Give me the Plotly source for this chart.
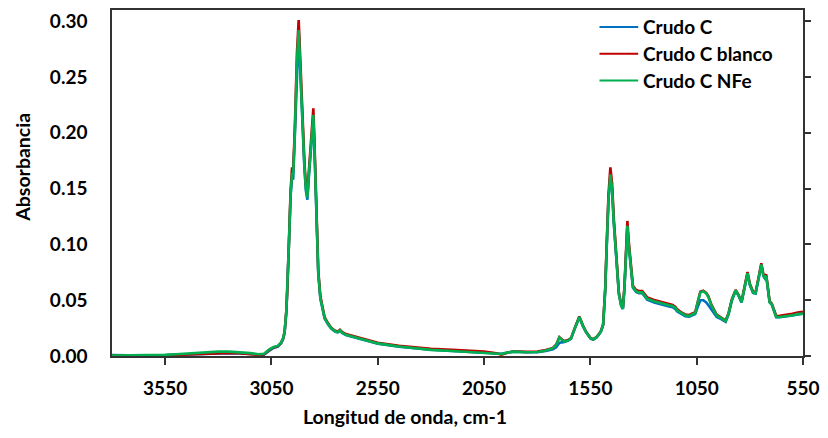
import plotly.graph_objects as go

# Wavenumber (cm-1)
wavenumber = [3800, 3750, 3700, 3650, 3600, 3550, 3500, 3450, 3400, 3350, 3300, 3250, 3200, 3150, 3110, 3085,
              3060, 3040, 3020, 3005, 2995, 2988, 2980, 2975, 2968, 2960, 2953, 2948, 2940, 2930, 2922, 2915,
              2905, 2895, 2888, 2881, 2875, 2866, 2853, 2845, 2838, 2830, 2820, 2810, 2800, 2785, 2770, 2750,
              2738, 2728, 2718, 2700, 2650, 2600, 2550, 2450, 2380, 2300, 2200, 2147, 2050, 2000, 1968, 1940,
              1913, 1850, 1800, 1760, 1726, 1710, 1696, 1685, 1672, 1655, 1641, 1625, 1602, 1585, 1571, 1550,
              1537, 1520, 1501, 1490, 1480, 1474, 1465, 1456, 1448, 1440, 1431, 1422, 1416, 1405, 1397, 1390,
              1382, 1376, 1370, 1361, 1350, 1335, 1322, 1306, 1295, 1283, 1250, 1213, 1180, 1163, 1150, 1143,
              1120, 1104, 1085, 1065, 1057, 1045, 1033, 1019, 1005, 995, 980, 956, 935, 914, 900, 885,
              867, 855, 839, 825, 811, 800, 785, 773, 760, 746, 736, 730, 723, 715, 707, 697,
              685, 676, 660, 640, 622, 600, 575, 550]

crudo_c = [0.0008, 0.0009, 0.0007, 0.0005, 0.0004, 0.0007, 0.0011, 0.0015, 0.0019, 0.0024, 0.0027, 0.0026, 0.0022, 0.0016, 0.0009, 0.0012,
           0.0048, 0.0072, 0.0084, 0.0112, 0.0152, 0.0212, 0.0395, 0.0590, 0.0990, 0.1430, 0.1620, 0.1580, 0.1970, 0.2620, 0.2900, 0.2580,
           0.2080, 0.1680, 0.1480, 0.1400, 0.1580, 0.1780, 0.2140, 0.1680, 0.1190, 0.0740, 0.0515, 0.0415, 0.0336, 0.0286, 0.0247, 0.0217,
           0.0212, 0.0226, 0.0207, 0.0187, 0.0162, 0.0138, 0.0111, 0.0084, 0.0068, 0.0056, 0.0046, 0.0040, 0.0032, 0.0024, 0.0020, 0.0031,
           0.0039, 0.0033, 0.0034, 0.0046, 0.0060, 0.0080, 0.0118, 0.0122, 0.0126, 0.0138, 0.0155, 0.0238, 0.0348, 0.0268, 0.0215, 0.0158,
           0.0146, 0.0168, 0.0215, 0.0278, 0.0595, 0.0935, 0.1395, 0.1615, 0.1490, 0.1195, 0.0935, 0.0676, 0.0555, 0.0447, 0.0421, 0.0597,
           0.0945, 0.1160, 0.0995, 0.0790, 0.0612, 0.0574, 0.0563, 0.0562, 0.0532, 0.0504, 0.0480, 0.0458, 0.0444, 0.0438, 0.0420, 0.0400,
           0.0370, 0.0356, 0.0352, 0.0366, 0.0375, 0.0440, 0.0500, 0.0500, 0.0480, 0.0455, 0.0410, 0.0350, 0.0330, 0.0306, 0.0374, 0.0495,
           0.0582, 0.0546, 0.0479, 0.0595, 0.0736, 0.0635, 0.0566, 0.0559, 0.0695, 0.0813, 0.0715, 0.0696, 0.0716, 0.0576, 0.0480, 0.0460,
           0.0397, 0.0347, 0.0348, 0.0353, 0.0354, 0.0363, 0.0373, 0.0378]

crudo_c_blanco = [0.0005, 0.0004, 0.0004, 0.0003, 0.0003, 0.0006, 0.0010, 0.0014, 0.0019, 0.0024, 0.0027, 0.0027, 0.0024, 0.0017, 0.0010, 0.0016,
                  0.0055, 0.0077, 0.0088, 0.0118, 0.0158, 0.0220, 0.0405, 0.0610, 0.1020, 0.1480, 0.1690, 0.1660, 0.2050, 0.2720, 0.3010, 0.2680,
                  0.2160, 0.1740, 0.1530, 0.1440, 0.1630, 0.1840, 0.2220, 0.1750, 0.1230, 0.0770, 0.0535, 0.0430, 0.0348, 0.0297, 0.0256, 0.0225,
                  0.0220, 0.0235, 0.0215, 0.0196, 0.0171, 0.0146, 0.0119, 0.0092, 0.0076, 0.0064, 0.0055, 0.0049, 0.0040, 0.0026, 0.0012, 0.0030,
                  0.0040, 0.0037, 0.0040, 0.0054, 0.0072, 0.0105, 0.0168, 0.0150, 0.0134, 0.0143, 0.0160, 0.0243, 0.0353, 0.0272, 0.0220, 0.0163,
                  0.0150, 0.0172, 0.0220, 0.0283, 0.0615, 0.0965, 0.1440, 0.1690, 0.1550, 0.1235, 0.0965, 0.0695, 0.0570, 0.0458, 0.0432, 0.0615,
                  0.0985, 0.1210, 0.1035, 0.0815, 0.0630, 0.0592, 0.0582, 0.0582, 0.0552, 0.0525, 0.0501, 0.0480, 0.0465, 0.0458, 0.0440, 0.0420,
                  0.0388, 0.0372, 0.0367, 0.0382, 0.0392, 0.0485, 0.0575, 0.0585, 0.0566, 0.0534, 0.0456, 0.0371, 0.0345, 0.0318, 0.0384, 0.0505,
                  0.0592, 0.0555, 0.0488, 0.0607, 0.0752, 0.0648, 0.0577, 0.0570, 0.0710, 0.0832, 0.0730, 0.0710, 0.0732, 0.0588, 0.0490, 0.0470,
                  0.0408, 0.0358, 0.0360, 0.0366, 0.0368, 0.0378, 0.0390, 0.0395]

crudo_c_nfe = [0.0005, 0.0005, 0.0004, 0.0004, 0.0005, 0.0010, 0.0016, 0.0022, 0.0029, 0.0035, 0.0039, 0.0039, 0.0035, 0.0026, 0.0016, 0.0020,
               0.0060, 0.0080, 0.0090, 0.0120, 0.0160, 0.0220, 0.0400, 0.0600, 0.1000, 0.1450, 0.1640, 0.1620, 0.2000, 0.2650, 0.2920, 0.2600,
               0.2100, 0.1700, 0.1500, 0.1420, 0.1600, 0.1800, 0.2160, 0.1700, 0.1200, 0.0750, 0.0520, 0.0420, 0.0340, 0.0290, 0.0250, 0.0220,
               0.0215, 0.0230, 0.0210, 0.0190, 0.0165, 0.0140, 0.0113, 0.0085, 0.0068, 0.0055, 0.0045, 0.0039, 0.0030, 0.0022, 0.0018, 0.0030,
               0.0039, 0.0033, 0.0036, 0.0050, 0.0070, 0.0100, 0.0166, 0.0145, 0.0130, 0.0140, 0.0157, 0.0240, 0.0350, 0.0270, 0.0217, 0.0160,
               0.0148, 0.0170, 0.0217, 0.0280, 0.0600, 0.0940, 0.1400, 0.1626, 0.1500, 0.1200, 0.0940, 0.0680, 0.0558, 0.0450, 0.0424, 0.0600,
               0.0950, 0.1166, 0.1000, 0.0795, 0.0617, 0.0580, 0.0570, 0.0570, 0.0540, 0.0513, 0.0490, 0.0469, 0.0455, 0.0448, 0.0430, 0.0410,
               0.0380, 0.0365, 0.0360, 0.0375, 0.0385, 0.0480, 0.0570, 0.0580, 0.0560, 0.0528, 0.0450, 0.0365, 0.0340, 0.0314, 0.0380, 0.0500,
               0.0587, 0.0550, 0.0483, 0.0600, 0.0741, 0.0640, 0.0570, 0.0563, 0.0700, 0.0819, 0.0720, 0.0700, 0.0720, 0.0580, 0.0483, 0.0463,
               0.0400, 0.0350, 0.0350, 0.0355, 0.0356, 0.0365, 0.0375, 0.0380]

series_names = ["Crudo C", "Crudo C blanco", "Crudo C NFe"]
series_colors = ["#0070C0", "#C00000", "#00B050"]
x_ticks = [3550, 3050, 2550, 2050, 1550, 1050, 550]
y_ticks = [0.00, 0.05, 0.10, 0.15, 0.20, 0.25, 0.30]

assert len(wavenumber) == len(crudo_c) == len(crudo_c_blanco) == len(crudo_c_nfe)

FONT = "Lato"
WEIGHT = "bold"
fig = go.Figure()
# last series (drawn on top) goes on the overlaying axis, which carries the right-hand ticks
for i, (name, vals, col) in enumerate(zip(series_names, [crudo_c, crudo_c_blanco, crudo_c_nfe], series_colors)):
    fig.add_trace(go.Scatter(x=wavenumber, y=vals, mode="lines", name=name,
                             yaxis="y2" if i == 2 else "y",
                             line=dict(color=col, width=2.6), showlegend=False))

axis_col = "#333333"
tfont = dict(family=FONT, size=19, color="black", weight=WEIGHT)
title_font = dict(family=FONT, size=19.5, color="black", weight=WEIGHT)
fig.update_layout(
    width=828, height=438,
    margin=dict(l=112, r=20, t=8, b=82),
    paper_bgcolor="white", plot_bgcolor="white",
    font=tfont,
    xaxis=dict(range=[3800, 550], tickvals=x_ticks, ticktext=[str(v) for v in x_ticks],
               ticks="outside", ticklen=7, tickwidth=1.5, tickcolor=axis_col,
               showline=True, linecolor=axis_col, linewidth=1.5, mirror=True,
               showgrid=False, zeroline=False, ticklabelstandoff=7, tickfont=tfont),
    yaxis=dict(range=[0, 0.31], tickvals=y_ticks, tickformat=".2f",
               ticks="", showline=True, linecolor=axis_col, linewidth=1.5, mirror=True,
               showgrid=False, zeroline=False, ticklabelstandoff=19, tickfont=tfont),
    yaxis2=dict(range=[0, 0.31], tickvals=y_ticks, overlaying="y", side="right", anchor="x",
                ticks="outside", ticklen=7, tickwidth=1.5, tickcolor=axis_col,
                showticklabels=False, showline=False, showgrid=False, zeroline=False),
)

# axis titles
fig.add_annotation(text="Longitud de onda, cm-1", xref="paper", yref="paper",
                   x=(407 - 112) / 696, y=(356 - 417) / 348, xanchor="center", yanchor="middle",
                   showarrow=False, font=title_font)
fig.add_annotation(text="Absorbancia", xref="paper", yref="paper", textangle=-90,
                   x=(21 - 112) / 696, y=(356 - 166) / 348, xanchor="center", yanchor="middle",
                   showarrow=False, font=title_font)

# legend (custom, top right)
leg_y = [25, 52, 79]
for name, col, py in zip(series_names, series_colors, leg_y):
    yp = (356 - py) / 348
    fig.add_shape(type="line", xref="paper", yref="paper",
                  x0=(603 - 112) / 696, x1=(642 - 112) / 696, y0=yp, y1=yp,
                  line=dict(color=col, width=2))
    fig.add_annotation(text=name, xref="paper", yref="paper", x=(645 - 112) / 696, y=yp,
                       xanchor="left", yanchor="middle", showarrow=False, font=tfont)

fig.write_html("out.html")
